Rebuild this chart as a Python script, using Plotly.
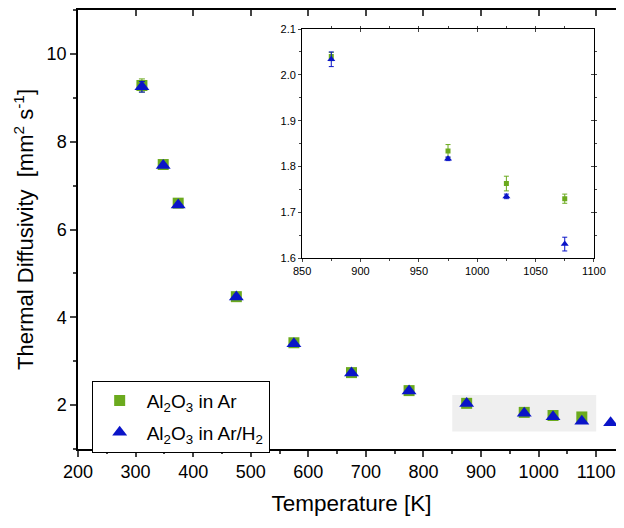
import plotly.graph_objects as go

# main plot data
temp_ar = [311, 348, 374, 475, 575, 675, 775, 875, 975, 1025, 1075]
diff_ar = [9.28, 7.48, 6.60, 4.47, 3.42, 2.74, 2.33, 2.040, 1.834, 1.763, 1.730]
err_ar = [0.15, 0.03, 0.03, 0.03, 0.02, 0.02, 0.01, 0.009, 0.014, 0.016, 0.010]

temp_h2 = [311, 348, 374, 475, 575, 675, 775, 875, 975, 1025, 1075, 1125]
diff_h2 = [9.25, 7.46, 6.56, 4.46, 3.40, 2.73, 2.32, 2.034, 1.817, 1.735, 1.631, 1.600]
err_h2 = [0.12, 0.03, 0.03, 0.03, 0.02, 0.02, 0.01, 0.016, 0.004, 0.005, 0.015, 0.010]

# inset data (850-1100 K)
inset_temp = [875, 975, 1025, 1075]
inset_ar = [2.040, 1.834, 1.763, 1.730]
inset_ar_err = [0.009, 0.014, 0.016, 0.010]
inset_h2 = [2.034, 1.817, 1.735, 1.631]
inset_h2_err = [0.016, 0.004, 0.005, 0.015]

green = '#6BAA1E'
blue = '#0A14C8'
font = 'Liberation Sans, Arial, sans-serif'

fig = go.Figure()

fig.add_trace(go.Scatter(x=temp_ar, y=diff_ar, mode='markers', name='Al<sub>2</sub>O<sub>3</sub> in Ar',
	legendgroup='ar', marker=dict(symbol='square', size=11, color=green),
	error_y=dict(type='data', array=err_ar, color=green, thickness=1, width=3)))
fig.add_trace(go.Scatter(x=temp_h2, y=diff_h2, mode='markers', name='Al<sub>2</sub>O<sub>3</sub> in Ar/H<sub>2</sub>',
	legendgroup='h2', marker=dict(symbol='triangle-up', size=13, color=blue),
	error_y=dict(type='data', array=err_h2, color=blue, thickness=1, width=3)))

fig.add_trace(go.Scatter(x=inset_temp, y=inset_ar, mode='markers', xaxis='x2', yaxis='y2', showlegend=False,
	marker=dict(symbol='square', size=5, color=green),
	error_y=dict(type='data', array=inset_ar_err, color=green, thickness=1, width=2.5)))
fig.add_trace(go.Scatter(x=inset_temp, y=inset_h2, mode='markers', xaxis='x2', yaxis='y2', showlegend=False,
	marker=dict(symbol='triangle-up', size=7, color=blue),
	error_y=dict(type='data', array=inset_h2_err, color=blue, thickness=1, width=2.5)))

# empty traces so the mirrored tick axes get drawn
fig.add_trace(go.Scatter(x=[], y=[], xaxis='x3', yaxis='y3', showlegend=False, hoverinfo='skip'))
fig.add_trace(go.Scatter(x=[], y=[], xaxis='x4', yaxis='y4', showlegend=False, hoverinfo='skip'))

main_x = dict(range=[200, 1150], tick0=200, dtick=100, minor=dict(dtick=50, ticklen=3, tickwidth=1.5))
main_y = dict(range=[1, 11], tick0=0, dtick=2, minor=dict(dtick=1, ticklen=3, tickwidth=1.5))
ins_x = dict(range=[850, 1100], tick0=850, dtick=50, minor=dict(dtick=25, ticklen=2, tickwidth=1))
ins_y = dict(range=[1.6, 2.1], tick0=1.6, dtick=0.1, minor=dict(dtick=0.05, ticklen=2, tickwidth=1))

common = dict(showgrid=False, zeroline=False, showline=True, linecolor='black', automargin=False)

d_x2 = [0.4097, 0.9432]
d_y2 = [0.4344, 0.9567]

# page body has an 8px margin, so the figure is a little smaller than the window
fig.update_layout(
	width=617, height=520,
	margin=dict(l=70, r=0, t=2, b=79),
	plot_bgcolor='white', paper_bgcolor='white',
	font=dict(family=font, color='black'),
	xaxis=dict(**main_x, **common, linewidth=1.5, ticks='outside', ticklen=6, tickwidth=1.5,
		tickfont=dict(size=18), title=dict(text='Temperature [K]', font=dict(size=22.5), standoff=14), anchor='y'),
	yaxis=dict(**main_y, **common, linewidth=1.5, ticks='outside', ticklen=6, tickwidth=1.5,
		tickfont=dict(size=18), title=dict(text='Thermal Diffusivity\u00a0\u00a0[mm<sup>2</sup> s<sup>-1</sup>]', font=dict(size=22), standoff=7), anchor='x'),
	xaxis3=dict(**main_x, **common, linewidth=1.5, ticks='inside', ticklen=6, tickwidth=1.5,
		showticklabels=False, overlaying='x', side='top', anchor='y3'),
	yaxis3=dict(**main_y, **common, linewidth=1.5, ticks='inside', ticklen=6, tickwidth=1.5,
		showticklabels=False, overlaying='y', side='right', anchor='x3'),
	xaxis2=dict(**ins_x, **common, linewidth=1, ticks='outside', ticklen=3, tickwidth=1,
		tickfont=dict(size=11), domain=d_x2, anchor='y2'),
	yaxis2=dict(**ins_y, **common, linewidth=1, ticks='outside', ticklen=3, tickwidth=1,
		tickfont=dict(size=11), tickformat='.1f', domain=d_y2, anchor='x2'),
	xaxis4=dict(**ins_x, **common, linewidth=1, ticks='inside', ticklen=3, tickwidth=1,
		showticklabels=False, overlaying='x2', side='top', anchor='y4'),
	yaxis4=dict(**ins_y, **common, linewidth=1, ticks='inside', ticklen=3, tickwidth=1,
		showticklabels=False, overlaying='y2', side='right', anchor='x4'),
	legend=dict(x=0.025, y=0.1556, xanchor='left', yanchor='top', bgcolor='white',
		bordercolor='black', borderwidth=1, font=dict(size=19), traceorder='grouped',
		tracegroupgap=4, itemwidth=44),
	shapes=[
		dict(type='rect', xref='x', yref='y', x0=850, x1=1100, y0=1.4, y1=2.23,
			fillcolor='#EFEFEF', line=dict(width=0), layer='below'),
		dict(type='rect', xref='x2 domain', yref='y2 domain', x0=0, x1=1, y0=0, y1=1,
			fillcolor='#EFEFEF', line=dict(width=0), layer='below'),
	],
	showlegend=True,
)

fig.write_html("out.html")
